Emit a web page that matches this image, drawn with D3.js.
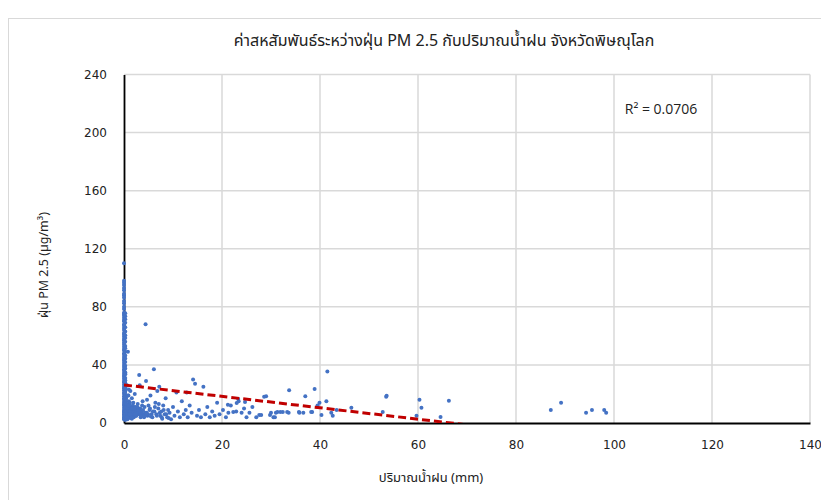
<!DOCTYPE html>
<html>
<head>
<meta charset="utf-8">
<script src="https://cdn.jsdelivr.net/npm/d3@7"></script>
<style>
  body { margin: 0; background: #fff; }
  svg { display: block; font-family: "DejaVu Sans", Tahoma, sans-serif; }
  .thai { font-family: "Noto Sans", "Noto Sans Thai", "DejaVu Sans", sans-serif; }
</style>
</head>
<body>
<div id="chart"></div>
<script>
// PM 2.5 on days with (almost) no rain
const zeroRainPm = [110, 98, 96.5, 95, 93, 91.5, 89, 88, 86.5, 84, 82.5, 80, 78.5, 76, 75, 74, 72.5, 71, 70, 68, 67, 65.5,
  64, 62, 61, 59.5, 58, 57, 55.5, 54, 52.5, 51, 50, 48, 47, 45.5, 44, 43, 41.5, 40, 38.5, 37, 36, 34.5, 33, 32, 30.5,
  29, 28, 26.5, 25, 24, 22.5, 21, 20, 18.5, 17, 16, 14.5, 13, 12, 10.5, 9, 8, 7, 6, 5, 4, 3, 2.5];
const traceRainPm = [75.5, 73.5, 71.5, 69, 66, 63, 60.5, 58.5, 56, 53, 51.5, 49, 46.5, 44.5, 42, 39.5, 37.5, 35, 33.5,
  31, 29.5, 27, 25.5, 23, 21.5, 19, 17.5, 15.5, 13.5, 11, 9.5, 7.5, 5.5, 3.5, 2, 6.5, 11.5, 15, 19.5, 24.5, 27.5, 34];

// rainy days: rainfall (mm) and PM 2.5 (µg/m³)
const rain = [
  0.1, 0.2, 0.3, 0.2, 0.4, 0.3, 0.5, 0.2, 0.6, 0.4, 0.3, 0.5, 0.7, 0.8, 0.6, 0.9, 0.8, 1.0, 0.9, 1.1,
  0.2, 0.4, 0.6, 0.3, 0.5, 0.7, 0.9, 1.2, 1.4, 1.0, 1.3, 0.6, 0.8, 1.5, 1.7, 0.4, 1.1, 1.9, 2.1, 1.6,
  1.2, 1.3, 1.1, 1.4, 1.5, 1.6, 1.7, 1.8, 1.9, 2.0, 2.1, 2.2, 2.3, 2.4, 2.5, 2.6, 2.8, 3.0, 3.1, 3.2,
  3.3, 3.4, 3.6, 3.8, 4.0, 4.2, 4.4, 4.5, 4.6, 4.8, 5.0, 5.2, 5.4, 5.6, 5.8, 6.1, 6.2, 6.4, 6.6, 6.8,
  2.7, 2.9, 3.5, 3.7, 3.9, 4.1, 4.3, 4.7, 4.9, 5.3, 5.5, 5.9, 6.3, 6.7, 7.1, 7.3, 7.7, 8.1, 8.6, 9.1,
  7.0, 7.2, 7.4, 7.6, 7.8, 8.0, 8.3, 8.5, 8.8, 9.0, 9.3, 9.6, 10.0, 10.3, 10.7, 11.0, 11.4, 11.8, 12.2, 12.6,
  12.8, 13.0, 13.4, 13.8, 14.1, 14.5, 14.9, 15.3, 15.7, 16.2, 16.6, 17.0, 17.5, 18.0, 18.5, 19.0, 19.5, 20.2, 20.8, 21.2,
  21.3, 21.8, 22.3, 22.9, 23.0, 23.3, 23.4, 24.0, 24.5, 24.7, 25.0, 25.6, 26.2, 27.0, 27.6, 28.0, 28.6, 29.0, 29.8, 30.0,
  30.5, 30.8, 31.0, 31.3, 31.9, 32.4, 33.3, 33.6, 33.7, 35.7, 35.8, 36.6, 37.0, 38.2, 38.4, 38.9, 39.5, 39.9, 40.3, 41.3,
  41.5, 42.3, 42.6, 43.4, 46.4, 52.8, 53.5, 53.6, 59.7, 60.3, 60.7, 64.6, 66.3, 87.1, 89.2, 94.3, 95.5, 98.0, 98.4,
  0.3, 0.5, 0.7, 0.4, 0.6, 0.9, 1.2, 0.5, 0.8, 1.0, 1.3, 1.6, 0.7, 1.1, 1.4, 1.8, 2.2, 2.6, 0.9, 1.5,
  2.0, 2.4, 3.0, 3.4, 0.4, 0.8, 1.2, 1.7, 2.3, 2.9, 3.5, 4.1, 1.0, 1.9, 2.7, 0.6, 1.3, 2.1, 3.3, 4.6
];
const pm = [
  31, 28, 24, 21, 18, 15, 13, 11, 9, 7, 5, 3, 2.5, 49, 26, 19, 12, 8, 6, 4,
  10, 8, 6, 14, 12, 9, 7, 5, 11, 15, 3.5, 4.5, 10, 8, 6.5, 17, 13, 9.5, 6, 3,
  14, 22, 10, 7, 5, 17, 9, 12, 6, 4, 8, 20, 11, 7, 5, 9, 13, 6, 33, 26,
  10, 4, 8, 15, 6, 11, 68, 29, 7, 5, 12, 9, 19, 6, 4, 37, 8, 14, 6, 22,
  7, 10, 5, 12, 9, 4, 7, 16, 6, 10, 4.5, 8, 11, 5, 13, 7, 4, 9, 6, 3.5,
  10, 25, 5, 8, 3, 12, 6, 17, 4, 9, 7, 2.5, 11, 5, 21, 8, 4, 15, 6, 9,
  21, 4, 12, 7, 30, 27, 5, 9, 4, 25, 6, 11, 4, 8, 5, 14, 6, 9, 4, 12.5,
  7, 12, 7.5, 8, 13.8, 16.5, 15, 7, 10, 14.5, 4, 7, 11, 4, 5.5, 5.5, 18, 18.5, 5.5, 7,
  4, 4, 7, 7.5, 7.5, 7.5, 7.5, 7, 22.5, 7.5, 7, 7, 18.5, 7.5, 7.5, 23.5, 12, 14, 5.5, 15,
  35.5, 7, 5, 9, 10.5, 7.5, 18, 18.8, 5, 16, 10.5, 4.2, 15.3, 9, 14, 7, 9, 9, 7,
  6, 8, 5, 11, 7, 9, 6, 13, 4, 7, 8, 5, 10, 6, 9, 7, 6, 8, 12, 4,
  9, 5, 8, 7, 16, 19, 8, 10, 6, 9, 7, 5, 23, 14, 11, 4, 6, 10, 8, 6
];

const trendIntercept = 26.2;
const trendSlope = -0.393;
const rSquared = "0.0706";

const xTicks = [0, 20, 40, 60, 80, 100, 120, 140];
const yTicks = [0, 40, 80, 120, 160, 200, 240];

const points = zeroRainPm.map(v => ({ x: 0, y: v }))
  .concat(traceRainPm.map(v => ({ x: 0.25, y: v })))
  .concat(rain.map((r, i) => ({ x: r, y: pm[i] })));

const W = 821, H = 500;
const m = { left: 124, right: 11, top: 74.5, bottom: 77 };
const iw = W - m.left - m.right, ih = H - m.top - m.bottom;

const svg = d3.select("#chart").append("svg").attr("width", W).attr("height", H);

// chart frame
svg.append("rect").attr("x", 8.5).attr("y", 18.5).attr("width", W).attr("height", H)
  .attr("fill", "none").attr("stroke", "#d9d9d9");

const g = svg.append("g").attr("transform", `translate(${m.left},${m.top})`);

const x = d3.scaleLinear().domain([0, 140]).range([0, iw]);
const y = d3.scaleLinear().domain([0, 240]).range([ih, 0]);

// gridlines
g.append("g").selectAll("line").data(yTicks.slice(1)).join("line")
  .attr("x1", 0).attr("x2", iw).attr("y1", d => y(d)).attr("y2", d => y(d))
  .attr("stroke", "#d9d9d9").attr("stroke-width", 1.5);
g.append("g").selectAll("line").data(xTicks.slice(1)).join("line")
  .attr("y1", 0).attr("y2", ih).attr("x1", d => x(d)).attr("x2", d => x(d))
  .attr("stroke", "#d9d9d9").attr("stroke-width", 1.5);

// axes
const xAxis = g.append("g").attr("transform", `translate(0,${ih})`)
  .call(d3.axisBottom(x).tickValues(xTicks).tickSize(0).tickPadding(17));
const yAxis = g.append("g")
  .call(d3.axisLeft(y).tickValues(yTicks).tickSize(0).tickPadding(17));
[xAxis, yAxis].forEach(a => {
  a.select(".domain").attr("stroke", "#000").attr("stroke-width", 1.8);
  a.selectAll("text").attr("font-size", 12).attr("fill", "#222")
    .attr("font-family", "'DejaVu Sans', Tahoma, sans-serif");
});

g.append("defs").append("clipPath").attr("id", "plot")
  .append("rect").attr("width", iw).attr("height", ih);

// points
g.append("g").selectAll("circle").data(points).join("circle")
  .attr("cx", d => x(d.x)).attr("cy", d => y(d.y)).attr("r", 2)
  .attr("fill", "#4472c4");

// linear trend line
const trend = [0, 98.4].map(v => ({ x: v, y: trendIntercept + trendSlope * v }));
g.append("path").datum(trend)
  .attr("clip-path", "url(#plot)")
  .attr("d", d3.line().x(d => x(d.x)).y(d => y(d.y)))
  .attr("fill", "none").attr("stroke", "#c00000").attr("stroke-width", 3)
  .attr("stroke-dasharray", "8,4");

// R² label
g.append("text").attr("x", x(102.2)).attr("y", y(216)).attr("dy", "0.35em")
  .attr("font-size", 14).attr("fill", "#222")
  .attr("font-family", "'Open Sans', sans-serif")
  .text(`R² = ${rSquared}`);

// titles
svg.append("text").attr("class", "thai").attr("x", 444).attr("y", 46)
  .attr("text-anchor", "middle").attr("font-size", 16).attr("fill", "#222")
  .text("ค่าสหสัมพันธ์ระหว่างฝุ่น PM 2.5 กับปริมาณน้ำฝน จังหวัดพิษณุโลก");

svg.append("text").attr("class", "thai").attr("x", 431).attr("y", 482)
  .attr("text-anchor", "middle").attr("font-size", 13).attr("fill", "#222")
  .text("ปริมาณน้ำฝน (mm)");

svg.append("text").attr("class", "thai")
  .attr("transform", "translate(48,265) rotate(-90)")
  .attr("text-anchor", "middle").attr("font-size", 12.5).attr("fill", "#222")
  .text("ฝุ่น PM 2.5 (µg/m³)");
</script>
</body>
</html>
